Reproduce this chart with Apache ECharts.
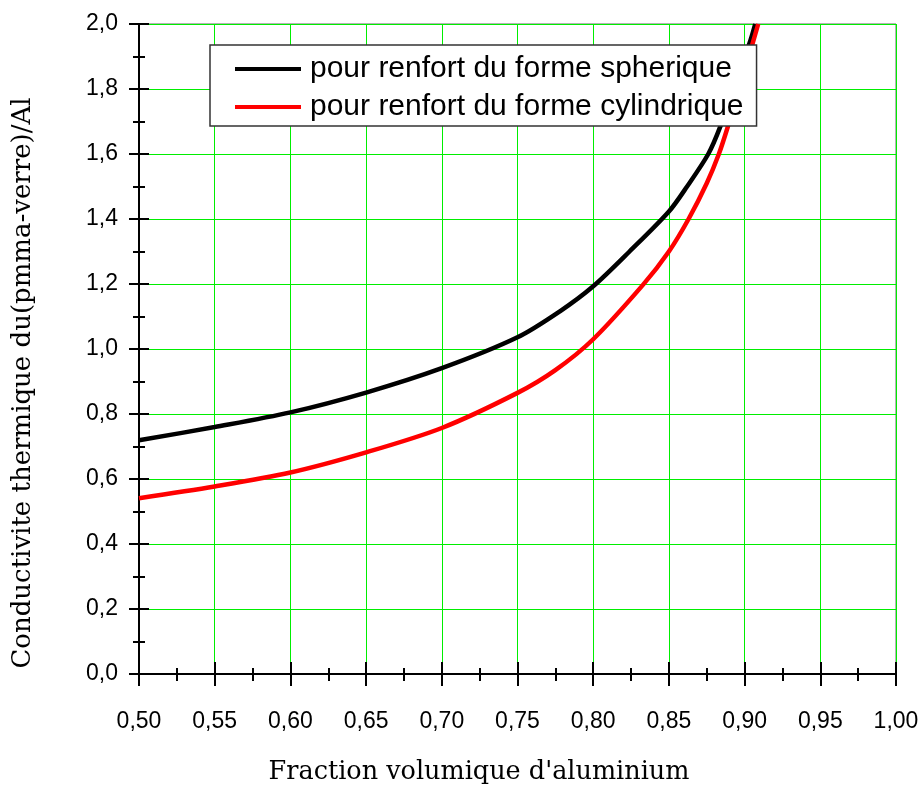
<!doctype html>
<html>
<head>
<meta charset="UTF-8">
<title>Conductivite thermique</title>
<script src="https://cdn.jsdelivr.net/npm/echarts@6/dist/echarts.min.js"></script>
<style>
  html, body { margin: 0; padding: 0; background: #fff; }
  #main { width: 924px; height: 785px; }
</style>
</head>
<body>
<div id="main"></div>
<script type="text/javascript">
// valeurs
var xSph = [0.50, 0.55, 0.60, 0.65, 0.70, 0.75, 0.778, 0.80, 0.824, 0.85, 0.862, 0.876, 0.884, 0.895, 0.904, 0.907];
var ySph = [0.719, 0.760, 0.805, 0.866, 0.941, 1.036, 1.116, 1.193, 1.30, 1.423, 1.50, 1.60, 1.685, 1.83, 1.952, 2.0];
var xCyl = [0.50, 0.55, 0.60, 0.65, 0.70, 0.75, 0.775, 0.80, 0.833, 0.85, 0.863, 0.875, 0.883, 0.889, 0.900, 0.909];
var yCyl = [0.541, 0.577, 0.620, 0.682, 0.757, 0.865, 0.935, 1.03, 1.198, 1.30, 1.40, 1.51, 1.60, 1.685, 1.855, 2.0];
var seriesNames = ['pour renfort du forme spherique', 'pour renfort du forme cylindrique'];
var xTitle = "Fraction volumique d'aluminium";
var yTitle = 'Conductivite thermique du(pmma-verre)/Al';

function pairs(xs, ys) {
    return xs.map(function (x, i) { return [x, ys[i]]; });
}
function comma(v, d) {
    return v.toFixed(d).replace('.', ',');
}

var myChart = echarts.init(document.getElementById('main'));

var gridGreen = '#00ee00';
var labelFont = { color: '#000', fontFamily: 'Liberation Sans', fontSize: 23 };
var tickStyle = { color: '#000', width: 2 };

var option = {
    animation: false,
    backgroundColor: '#fff',
    grid: {
        left: 139, right: 28, top: 24, bottom: 111,
        show: true, borderColor: '#666', borderWidth: 1
    },
    legend: {
        orient: 'vertical',
        left: 210, top: 45,
        padding: [9, 13, 4, 25],
        icon: 'rect',
        itemWidth: 66, itemHeight: 4, itemGap: 8,
        borderColor: '#333', borderWidth: 1.5,
        backgroundColor: '#fff',
        textStyle: { color: '#000', fontFamily: 'Liberation Sans', fontSize: 30, lineHeight: 30, padding: [0, 0, 0, 4] },
        data: seriesNames
    },
    xAxis: [
        {
            type: 'value', min: 0.5, max: 1.0, interval: 0.05,
            axisLine: { lineStyle: { color: '#000', width: 2 } },
            axisTick: { inside: false, length: 12, lineStyle: tickStyle },
            minorTick: { show: true, splitNumber: 2, length: 7, lineStyle: tickStyle },
            axisLabel: Object.assign({ margin: 36, formatter: function (v) { return comma(v, 2); } }, labelFont),
            splitLine: { show: true, lineStyle: { color: gridGreen, width: 1 } }
        },
        {
            type: 'value', min: 0.5, max: 1.0, interval: 0.05, position: 'bottom',
            axisLine: { show: false },
            axisTick: { inside: true, length: 12, lineStyle: tickStyle },
            minorTick: { show: true, splitNumber: 2, length: 6, lineStyle: tickStyle },
            axisLabel: { show: false },
            splitLine: { show: false }
        }
    ],
    yAxis: [
        {
            type: 'value', min: 0, max: 2, interval: 0.2,
            axisLine: { show: true, lineStyle: { color: '#000', width: 2 } },
            axisTick: { show: true, inside: false, length: 10, lineStyle: tickStyle },
            minorTick: { show: true, splitNumber: 2, length: 6, lineStyle: tickStyle },
            axisLabel: Object.assign({ margin: 21, formatter: function (v) { return comma(v, 1); } }, labelFont),
            splitLine: { show: true, lineStyle: { color: gridGreen, width: 1 } }
        },
        {
            type: 'value', min: 0, max: 2, interval: 0.2, position: 'left',
            axisLine: { show: false },
            axisTick: { show: true, inside: true, length: 10, lineStyle: tickStyle },
            minorTick: { show: true, splitNumber: 2, length: 6, lineStyle: tickStyle },
            axisLabel: { show: false },
            splitLine: { show: false }
        }
    ],
    graphic: [
        {
            type: 'text', x: 479, y: 772,
            style: {
                text: xTitle, fontFamily: 'DejaVu Serif', fontSize: 25.5, fill: '#000',
                align: 'center', verticalAlign: 'middle'
            }
        },
        {
            type: 'text', x: 23, y: 383, rotation: Math.PI / 2,
            style: {
                text: yTitle, fontFamily: 'DejaVu Serif', fontSize: 26, fill: '#000',
                align: 'center', verticalAlign: 'middle'
            }
        }
    ],
    series: [
        {
            name: seriesNames[0], type: 'line', smooth: 0.3,
            showSymbol: false, symbol: 'none',
            lineStyle: { color: '#000', width: 4.5 }, itemStyle: { color: '#000' },
            data: pairs(xSph, ySph)
        },
        {
            name: seriesNames[1], type: 'line', smooth: 0.3,
            showSymbol: false, symbol: 'none',
            lineStyle: { color: '#ff0000', width: 4.5 }, itemStyle: { color: '#ff0000' },
            data: pairs(xCyl, yCyl)
        }
    ]
};

myChart.setOption(option);
</script>
</body>
</html>
